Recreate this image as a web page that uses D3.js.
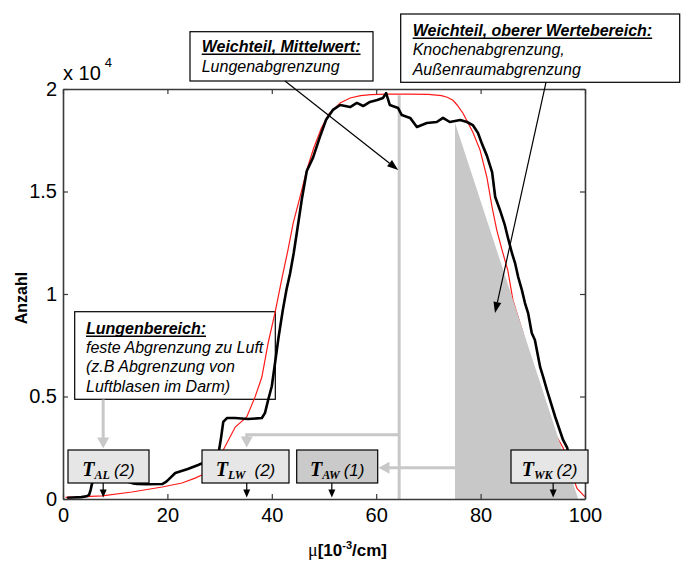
<!DOCTYPE html>
<html>
<head>
<meta charset="utf-8">
<script src="https://cdn.jsdelivr.net/npm/d3@7"></script>
<style>
  html, body { margin: 0; padding: 0; background: #fff; }
  svg { display: block; }
</style>
</head>
<body>
<svg id="chart" width="681" height="561"></svg>
<script>
// Measured histogram of attenuation values (black)
const histMu = [0.8, 2, 3.5, 4.5, 5.0, 5.3, 5.6, 6.5, 9, 12, 13.5, 14.2, 16, 19, 19.8, 20.5, 21.5, 23.9, 25.9, 26.8,
  28, 29.3, 29.9, 30.3, 30.7, 31.4, 33.0, 35.4, 38.1, 38.7, 39.3, 40.0, 40.6, 41.3, 42.1, 42.8, 43.5, 44.2, 44.8,
  45.8, 46.7, 47.9, 49.2, 50.4, 51.7, 53.1, 55.0, 56.3, 57.5, 58.8, 60.2, 61.3, 61.9, 62.6, 64.2, 64.9, 66.5, 67.8,
  69.7, 71.6, 72.8, 74.1, 76.1, 77.4, 78.5, 79.5, 80.3, 81.2, 82.2, 82.8, 83.7, 84.6, 85.2, 86.0, 86.6, 87.2, 87.9,
  88.5, 89.1, 89.8, 90.4, 91.4, 92.0, 92.7, 94.3, 95.8, 96.6, 97.5];
const histCount = [60, 70, 90, 130, 200, 450, 800, 900, 900, 880, 760, 730, 720, 730, 850, 1020, 1270, 1460, 1660, 1760,
  1850, 2000, 2390, 3020, 3760, 3950, 3950, 3900, 3950, 4200, 4830, 5500, 6600, 7900, 9200, 10200, 11000, 12000, 13000,
  14700, 16000, 16650, 17650, 18500, 18980, 19220, 19120, 19320, 19170, 19370, 19460, 19560, 19800, 19220, 19070, 18730, 18590, 18150,
  18340, 18390, 18590, 18390, 18490, 18390, 18240, 17850, 17300, 16750, 15950, 14730, 14100, 13400, 12780, 12000, 11510, 10830, 10200,
  9560, 9070, 8100, 7760, 6440, 5950, 5320, 4000, 2880, 2490, 1200];

// Smooth model fit (red)
const fitMu = [0.5, 3, 7.5, 13.2, 19, 22.8, 25.3, 26.6, 28.5, 30.7, 33, 35.2, 36.8, 38.1, 39.3, 40.6, 42, 43.1, 44.1,
  45.4, 46.7, 48, 49.5, 51.0, 53.1, 55, 57, 59, 62, 66, 70, 72.5, 73.6, 74.7, 75.5, 76.6, 77.6, 78.5, 79.9, 81.2,
  82.2, 83.1, 84.1, 85.2, 86.2, 88, 90, 92, 94, 95.8, 97, 98.5, 100];
const fitCount = [80, 100, 150, 340, 585, 780, 1020, 1170, 1550, 2390, 3510, 4000, 4980, 5950, 7610, 9070, 10830, 12150, 13460,
  14730, 16050, 17100, 18100, 18800, 19320, 19560, 19680, 19730, 19750, 19750, 19740, 19680, 19600, 19450, 19220, 18830, 18340, 17900, 17020, 15700,
  14240, 13120, 12150, 11170, 9700, 8200, 6400, 4700, 3300, 2500, 1500, 500, 100];

// Upper soft-tissue range (grey wedge) and mean marker
const shadeMu = [75.1, 75.1, 98.7];
const shadeCount = [0, 18350, 0];
const meanMu = 64.4;
const meanTop = 19700;

// Axis ticks
const xTicks = [0, 20, 40, 60, 80, 100];
const yTicks = [0, 5000, 10000, 15000, 20000];
const yTickLabels = ["0", "0.5", "1", "1.5", "2"];

// Thresholds
const thresholdSub = ["AL", "LW", "AW", "WK"];
const thresholdMu = [7.7, 35.2, 51.5, 93.9];
const thresholdRank = ["(2)", "(2)", "(1)", "(2)"];

// ---------------------------------------------------------------
const svg = d3.select("#chart");
const plot = { left: 63, right: 585, top: 89, bottom: 499 };
const x = d3.scaleLinear().domain([0, 100]).range([plot.left, plot.right]);
const y = d3.scaleLinear().domain([0, 20000]).range([plot.bottom, plot.top]);

const SANS = "'Liberation Sans', Arial, sans-serif";
const SERIF = "'Liberation Serif', 'Times New Roman', serif";
const LIGHT = "#c8c8c8";

function arrowHead(g, tx, ty, dir, len, hw, color) {
  // dir: "down", "left"
  let pts;
  if (dir === "down") pts = [[tx, ty], [tx - hw, ty - len], [tx + hw, ty - len]];
  else if (dir === "left") pts = [[tx, ty], [tx + len, ty - hw], [tx + len, ty + hw]];
  g.append("path").attr("d", "M" + pts.map(p => p.join(",")).join("L") + "Z").attr("fill", color);
}
function arrowTo(g, x1, y1, x2, y2, len, hw, color, width) {
  const a = Math.atan2(y2 - y1, x2 - x1);
  const bx = x2 - len * Math.cos(a), by = y2 - len * Math.sin(a);
  g.append("line").attr("x1", x1).attr("y1", y1).attr("x2", bx).attr("y2", by)
    .attr("stroke", color).attr("stroke-width", width);
  const px = -Math.sin(a) * hw, py = Math.cos(a) * hw;
  g.append("path").attr("d", `M${x2},${y2}L${bx + px},${by + py}L${bx - px},${by - py}Z`).attr("fill", color);
}

// Text box with a bold underlined heading and italic lines
function noteBox(g, box, lines) {
  g.append("rect").attr("x", box.x).attr("y", box.y).attr("width", box.w).attr("height", box.h)
    .attr("fill", "#fff").attr("stroke", "#000").attr("stroke-width", 1.2);
  lines.forEach((ln, i) => {
    const t = g.append("text").attr("x", box.tx).attr("y", box.ty + i * box.lh)
      .attr("font-family", SANS).attr("font-size", 16).attr("font-style", "italic")
      .attr("font-weight", i === 0 ? "bold" : "normal").attr("fill", "#000").text(ln);
    if (i === 0) {
      const w = t.node().getComputedTextLength();
      g.append("line").attr("x1", box.tx).attr("x2", box.tx + w)
        .attr("y1", box.ty + 2.2).attr("y2", box.ty + 2.2).attr("stroke", "#000").attr("stroke-width", 1.5);
    }
  });
}

// Lung-range note sits under the curves
const under = svg.append("g");
noteBox(under, { x: 74.7, y: 311.7, w: 200.6, h: 87.6, tx: 86, ty: 334, lh: 19.2 },
  ["Lungenbereich:", "feste Abgrenzung zu Luft", "(z.B Abgrenzung von", "Luftblasen im Darm)"]);

// Fit curve
const line = d3.line().x(d => x(d[0])).y(d => y(d[1]));
svg.append("path").datum(fitMu.map((m, i) => [m, fitCount[i]]))
  .attr("d", line).attr("fill", "none").attr("stroke", "#ff1a1a").attr("stroke-width", 1.2);

// Grey wedge over the upper soft-tissue range
svg.append("path").datum(shadeMu.map((m, i) => [m, shadeCount[i]]))
  .attr("d", d => line(d) + "Z").attr("fill", LIGHT).attr("stroke", "none");

// Mean marker
svg.append("line").attr("x1", x(meanMu)).attr("x2", x(meanMu)).attr("y1", y(0)).attr("y2", y(meanTop))
  .attr("stroke", LIGHT).attr("stroke-width", 3);

// Grey guide arrows
const guides = svg.append("g");
const bracketCount = 3140;
guides.append("path")
  .attr("d", `M${x(meanMu)},${y(bracketCount)}H${x(thresholdMu[1])}V${y(bracketCount) + 4}`)
  .attr("fill", "none").attr("stroke", LIGHT).attr("stroke-width", 3);
arrowHead(guides, x(thresholdMu[1]), 447.5, "down", 11, 6, LIGHT);
const awCount = 1530;
guides.append("line").attr("x1", x(shadeMu[0])).attr("x2", 388).attr("y1", y(awCount)).attr("y2", y(awCount))
  .attr("stroke", LIGHT).attr("stroke-width", 3);
arrowHead(guides, 378.5, y(awCount), "left", 11, 6, LIGHT);
guides.append("line").attr("x1", x(thresholdMu[0])).attr("x2", x(thresholdMu[0])).attr("y1", 399.5).attr("y2", 438)
  .attr("stroke", LIGHT).attr("stroke-width", 3);
arrowHead(guides, x(thresholdMu[0]), 448.5, "down", 11, 6, LIGHT);

// Histogram
svg.append("path").datum(histMu.map((m, i) => [m, histCount[i]]))
  .attr("d", line).attr("fill", "none").attr("stroke", "#000").attr("stroke-width", 2.6)
  .attr("stroke-linejoin", "round");

// Axes (box with inward ticks)
const axisColor = "#3a3a3a";
function styleAxis(g) {
  g.selectAll("path.domain").attr("stroke", axisColor).attr("stroke-width", 1.6);
  g.selectAll(".tick line").attr("stroke", axisColor).attr("stroke-width", 1.2);
  g.selectAll("text").attr("font-family", SANS).attr("font-size", 20).attr("fill", "#000");
}
svg.append("g").attr("transform", `translate(0,${plot.bottom})`)
  .call(d3.axisBottom(x).tickValues(xTicks).tickSizeInner(-5).tickSizeOuter(0).tickPadding(9).tickFormat(d3.format("d")))
  .call(styleAxis);
svg.append("g").attr("transform", `translate(0,${plot.top})`)
  .call(d3.axisTop(x).tickValues(xTicks).tickSizeInner(-5).tickSizeOuter(0).tickFormat(""))
  .call(styleAxis);
svg.append("g").attr("transform", `translate(${plot.left},0)`)
  .call(d3.axisLeft(y).tickValues(yTicks).tickSizeInner(-5).tickSizeOuter(0).tickPadding(6)
    .tickFormat((d, i) => yTickLabels[i]))
  .call(styleAxis);
svg.append("g").attr("transform", `translate(${plot.right},0)`)
  .call(d3.axisRight(y).tickValues(yTicks).tickSizeInner(-5).tickSizeOuter(0).tickFormat(""))
  .call(styleAxis);

// Exponent label
const expo = svg.append("text").attr("x", 63).attr("y", 80).attr("font-family", SANS).attr("font-size", 20);
expo.append("tspan").text("x 10");
expo.append("tspan").attr("font-size", 13).attr("dx", 4).attr("dy", -13).text("4");

// Axis titles
svg.append("text").attr("transform", "translate(27,298) rotate(-90)").attr("text-anchor", "middle")
  .attr("font-family", SANS).attr("font-size", 16).attr("font-weight", "bold").text("Anzahl");
const xl = svg.append("text").attr("x", 308).attr("y", 556).attr("font-family", SANS).attr("font-weight", "bold").attr("font-size", 17);
xl.append("tspan").attr("font-family", SERIF).attr("font-weight", "normal").attr("font-size", 18).text("\u03bc");
xl.append("tspan").text("[10");
xl.append("tspan").attr("font-size", 11).attr("dy", -7).text("-3");
xl.append("tspan").attr("dy", 7).text("/cm]");

// Threshold boxes with small arrows to the axis
const tBoxes = [
  { x0: 68, x1: 149, fill: "#e6e6e6", gap: 0 },
  { x0: 202, x1: 289, fill: "#e6e6e6", gap: 5 },
  { x0: 296.7, x1: 377.7, fill: "#cacaca", gap: 0 },
  { x0: 511, x1: 588, fill: "#e6e6e6", gap: 0 }
];
const tg = svg.append("g");
thresholdSub.forEach((sub, i) => {
  const b = tBoxes[i];
  const tx = x(thresholdMu[i]);
  tg.append("line").attr("x1", tx).attr("x2", tx).attr("y1", 483).attr("y2", 490).attr("stroke", "#000").attr("stroke-width", 1.2);
  arrowHead(tg, tx, 497.5, "down", 8, 3.5, "#000");
  tg.append("rect").attr("x", b.x0).attr("y", 450).attr("width", b.x1 - b.x0).attr("height", 33)
    .attr("fill", b.fill).attr("stroke", "#000").attr("stroke-width", 1.2);
  const t = tg.append("text").attr("x", (b.x0 + b.x1) / 2).attr("y", 475.5).attr("text-anchor", "middle");
  t.append("tspan").attr("font-family", SERIF).attr("font-weight", "bold").attr("font-style", "italic")
    .attr("font-size", 20).text("T");
  t.append("tspan").attr("font-family", SERIF).attr("font-weight", "bold").attr("font-style", "italic")
    .attr("font-size", 12).attr("dy", 3.5).text(sub);
  t.append("tspan").attr("font-family", SANS).attr("font-style", "italic").attr("font-size", 17)
    .attr("dy", -3.5).attr("dx", 4 + b.gap).text(thresholdRank[i]);
});

// Callout notes with arrows
const notes = svg.append("g");
noteBox(notes, { x: 190, y: 31.7, w: 183, h: 49.3, tx: 201.7, ty: 52, lh: 20 },
  ["Weichteil, Mittelwert:", "Lungenabgrenzung"]);
arrowTo(notes, 285, 81, x(meanMu) - 1, 170, 11, 4, "#000", 1.2);
noteBox(notes, { x: 400.7, y: 14, w: 279, h: 68.3, tx: 412.7, ty: 36, lh: 19.3 },
  ["Weichteil, oberer Wertebereich:", "Knochenabgrenzung,", "Au\u00dfenraumabgrenzung"]);
arrowTo(notes, 546, 82.3, 495, 313, 11, 4, "#000", 1.2);
</script>
</body>
</html>
